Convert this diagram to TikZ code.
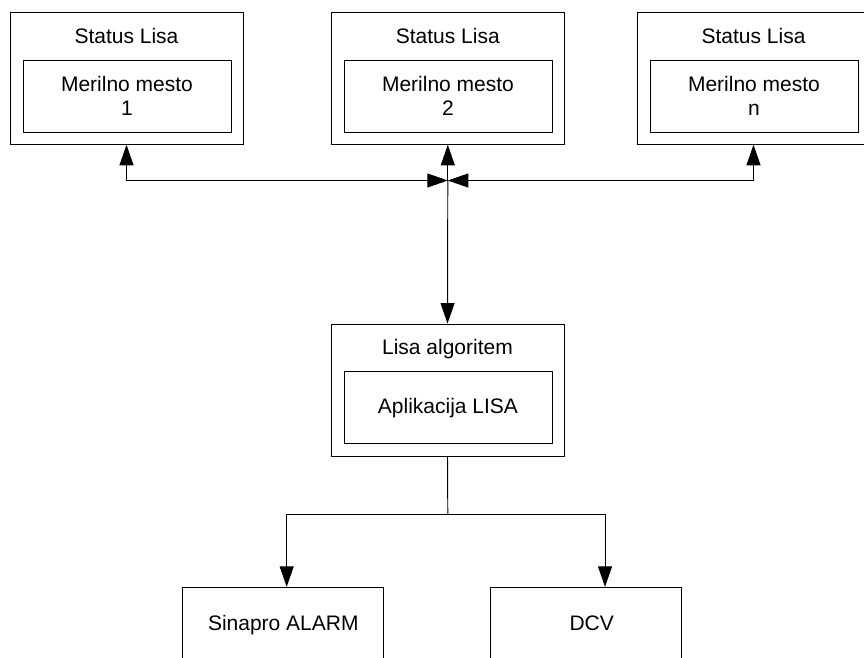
\documentclass[tikz,border=0pt]{standalone}
\usepackage{fontspec}
\setmainfont{Liberation Sans}
\usetikzlibrary{arrows.meta}
\begin{document}
\begin{tikzpicture}[x=1pt,y=-1pt, line width=0.95pt,
  >={Triangle[length=20.5pt,width=14pt]},
  outerbox/.style={draw, minimum width=233pt, minimum height=132pt, inner sep=0pt},
  innerbox/.style={draw, minimum width=208pt, minimum height=72pt, inner sep=0pt},
  endbox/.style={draw, minimum height=80pt, inner sep=0pt},
  txt/.style={anchor=base, inner sep=0pt, font=\fontsize{21}{23}\selectfont}]
\useasboundingbox (0,0) rectangle (864,657);
\clip (0,0) rectangle (864,657);

% measuring points
\node[outerbox] (b1) at (126.5,78.3) {};
\node[innerbox] (m1) at (127,96.3) {};
\node[txt] (t1) at (126.5,43.3) {Status Lisa};
\node[txt] (n1a) at (127,91.7) {Merilno mesto};
\node[txt] (n1b) at (127,115) {1};

\node[outerbox] (b2) at (447.8,78.3) {};
\node[innerbox] (m2) at (448,96.3) {};
\node[txt] (t2) at (447.8,43.3) {Status Lisa};
\node[txt] (n2a) at (448,91.7) {Merilno mesto};
\node[txt] (n2b) at (448,115) {2};

\node[outerbox] (b3) at (753.5,78.3) {};
\node[innerbox] (m3) at (754,96.3) {};
\node[txt] (t3) at (753.5,43.3) {Status Lisa};
\node[txt] (n3a) at (754,91.7) {Merilno mesto};
\node[txt] (n3b) at (754,115) {n};

% algorithm
\node[outerbox] (lisa) at (447.5,390) {};
\node[innerbox] (app) at (448,407.2) {};
\node[txt] (tl) at (447.5,354) {Lisa algoritem};
\node[txt] (ta) at (448,413.3) {Aplikacija LISA};

% outputs
\node[endbox, minimum width=200.6pt] (sin) at (283,627.3) {};
\node[txt] (ts) at (283.3,630.7) {Sinapro ALARM};
\node[endbox, minimum width=191pt] (dcv) at (586.2,627.3) {};
\node[txt] (td) at (591.7,630.7) {DCV};

% connectors
\coordinate (J) at (447.8,180.5);
\coordinate (S) at (447.8,514.5);
\draw[<->] (b1.south) |- (J);
\draw[<->] (b3.south) |- (J);
\draw[->] (J) -- (b2.south);
\draw[->] (J) -- (lisa.north);
\draw (lisa.south) -- (S);
\draw[->] (S) -| ([xshift=3.7pt]sin.north);
\draw[->] (S) -| ([xshift=18.8pt]dcv.north);
\end{tikzpicture}
\end{document}
